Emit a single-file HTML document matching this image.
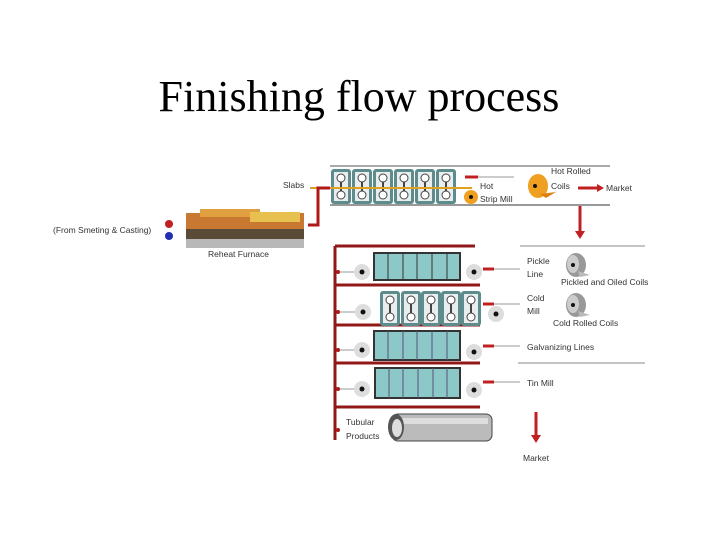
<!DOCTYPE html>
<html><head><meta charset="utf-8"><style>
body{margin:0;background:#fff;width:720px;height:540px;overflow:hidden}
svg text{font-family:"Liberation Sans",sans-serif;font-size:8.5px;fill:#333}
</style></head><body>
<svg width="720" height="540" viewBox="0 0 720 540" xmlns="http://www.w3.org/2000/svg">
<text x="359" y="111" text-anchor="middle" style="font-family:'Liberation Serif',serif;font-size:44px;fill:#000">Finishing flow process</text>
<defs>
<g id="stand"><rect x="0" y="0" width="20" height="35" rx="3" fill="#5e8c8c"/><rect x="3" y="3" width="14" height="29" fill="#e8eeee"/><circle cx="10" cy="9" r="4" fill="#fff" stroke="#444"/><circle cx="10" cy="26" r="4" fill="#fff" stroke="#444"/><line x1="10" y1="13" x2="10" y2="22" stroke="#444" stroke-width="2"/></g>
<g id="roll"><circle r="8" fill="#ddd"/><circle r="2.5" fill="#111"/></g>
<g id="coil"><ellipse cx="0" cy="0" rx="10" ry="12" fill="#999"/><ellipse cx="-3" cy="-1" rx="6" ry="9" fill="#ccc"/><circle cx="-3" cy="0" r="2" fill="#111"/><path d="M2 6 L14 10 L4 12Z" fill="#bbb"/></g>
</defs>
<line x1="330" y1="166" x2="610" y2="166" stroke="#aaa" stroke-width="2"/>
<line x1="330" y1="205" x2="610" y2="205" stroke="#999" stroke-width="2"/>
<use href="#stand" x="331" y="169"/><use href="#stand" x="352" y="169"/><use href="#stand" x="373" y="169"/><use href="#stand" x="394" y="169"/><use href="#stand" x="415" y="169"/><use href="#stand" x="436" y="169"/>
<line x1="310" y1="188" x2="472" y2="188" stroke="#e0a020" stroke-width="2"/>
<polyline points="308,225 318,225 318,188 330,188" fill="none" stroke="#b01818" stroke-width="3"/>
<circle cx="471" cy="197" r="7" fill="#f0a020"/><circle cx="471" cy="197" r="2" fill="#111"/>
<line x1="465" y1="177" x2="478" y2="177" stroke="#c02020" stroke-width="3"/>
<line x1="478" y1="177" x2="514" y2="177" stroke="#ccc" stroke-width="2"/>
<text x="480" y="189">Hot</text><text x="480" y="202">Strip Mill</text>
<ellipse cx="538" cy="186" rx="10" ry="12" fill="#f0a020"/><circle cx="535" cy="186" r="2" fill="#111"/><path d="M540 194 L556 192 L546 198Z" fill="#e08010"/>
<text x="551" y="174">Hot Rolled</text><text x="551" y="189">Coils</text>
<line x1="578" y1="188" x2="598" y2="188" stroke="#c02020" stroke-width="3"/><path d="M597 184 L604 188 L597 192Z" fill="#c02020"/>
<text x="606" y="191">Market</text>
<line x1="580" y1="206" x2="580" y2="232" stroke="#c02020" stroke-width="3"/><path d="M575 231 L580 239 L585 231Z" fill="#c02020"/>
<text x="283" y="188">Slabs</text>
<rect x="186" y="213" width="118" height="16" fill="#c87830"/><rect x="200" y="209" width="60" height="8" fill="#e0a040"/><rect x="250" y="212" width="50" height="10" fill="#e8c050"/>
<rect x="186" y="229" width="118" height="10" fill="#5a4a38"/><rect x="186" y="239" width="118" height="9" fill="#b8b8b8"/>
<circle cx="169" cy="224" r="4" fill="#c02020"/><circle cx="169" cy="236" r="4" fill="#2030b0"/>
<text x="53" y="233">(From Smeting &amp; Casting)</text>
<text x="208" y="257">Reheat Furnace</text>
<line x1="335" y1="246" x2="335" y2="440" stroke="#901818" stroke-width="3"/>
<g stroke="#901818" stroke-width="3"><line x1="335" y1="246" x2="475" y2="246"/><line x1="335" y1="285" x2="480" y2="285"/><line x1="335" y1="325" x2="480" y2="325"/><line x1="335" y1="363" x2="480" y2="363"/><line x1="335" y1="407" x2="480" y2="407"/></g>
<line x1="520" y1="246" x2="645" y2="246" stroke="#888"/>
<line x1="518" y1="363" x2="645" y2="363" stroke="#888"/>
<rect x="374" y="253" width="86" height="27" fill="#8cc8c8" stroke="#333" stroke-width="2"/>
<g stroke="#333"><line x1="388" y1="253" x2="388" y2="280"/><line x1="403" y1="253" x2="403" y2="280"/><line x1="417" y1="253" x2="417" y2="280"/><line x1="432" y1="253" x2="432" y2="280"/><line x1="447" y1="253" x2="447" y2="280"/></g>
<use href="#stand" x="380" y="291"/><use href="#stand" x="401" y="291"/><use href="#stand" x="421" y="291"/><use href="#stand" x="441" y="291"/><use href="#stand" x="461" y="291"/>
<rect x="374" y="331" width="86" height="29" fill="#8cc8c8" stroke="#333" stroke-width="2"/>
<rect x="375" y="368" width="85" height="30" fill="#8cc8c8" stroke="#333" stroke-width="2"/>
<g stroke="#557"><line x1="388" y1="331" x2="388" y2="360"/><line x1="403" y1="331" x2="403" y2="360"/><line x1="417" y1="331" x2="417" y2="360"/><line x1="432" y1="331" x2="432" y2="360"/><line x1="447" y1="331" x2="447" y2="360"/>
<line x1="389" y1="368" x2="389" y2="398"/><line x1="403" y1="368" x2="403" y2="398"/><line x1="418" y1="368" x2="418" y2="398"/><line x1="433" y1="368" x2="433" y2="398"/><line x1="447" y1="368" x2="447" y2="398"/></g>
<g stroke="#ccc" stroke-width="2"><line x1="340" y1="272" x2="355" y2="272"/><line x1="340" y1="312" x2="355" y2="312"/><line x1="340" y1="350" x2="355" y2="350"/><line x1="340" y1="389" x2="355" y2="389"/>
<line x1="492" y1="269" x2="520" y2="269"/><line x1="492" y1="304" x2="520" y2="304"/><line x1="492" y1="346" x2="520" y2="346"/><line x1="492" y1="382" x2="520" y2="382"/></g>
<g fill="#b01818"><circle cx="338" cy="272" r="2"/><circle cx="338" cy="312" r="2"/><circle cx="338" cy="350" r="2"/><circle cx="338" cy="389" r="2"/><circle cx="338" cy="430" r="2"/></g>
<g stroke="#c02020" stroke-width="3"><line x1="483" y1="269" x2="494" y2="269"/><line x1="483" y1="304" x2="494" y2="304"/><line x1="483" y1="346" x2="494" y2="346"/><line x1="483" y1="382" x2="494" y2="382"/></g>
<use href="#roll" x="362" y="272"/><use href="#roll" x="474" y="272"/><use href="#roll" x="363" y="312"/><use href="#roll" x="496" y="314"/>
<use href="#roll" x="362" y="350"/><use href="#roll" x="474" y="352"/><use href="#roll" x="362" y="389"/><use href="#roll" x="474" y="390"/>
<use href="#coil" x="576" y="265"/><use href="#coil" x="576" y="305"/>
<text x="527" y="264">Pickle</text><text x="527" y="277">Line</text><text x="561" y="285">Pickled and Oiled Coils</text>
<text x="527" y="301">Cold</text><text x="527" y="314">Mill</text><text x="553" y="326">Cold Rolled Coils</text>
<text x="527" y="350">Galvanizing Lines</text><text x="527" y="386">Tin Mill</text>
<rect x="392" y="414" width="100" height="27" rx="6" fill="#bbb" stroke="#444"/><rect x="396" y="418" width="92" height="6" fill="#ddd"/>
<ellipse cx="396" cy="427" rx="8" ry="13" fill="#555"/><ellipse cx="397" cy="428" rx="5" ry="9" fill="#ddd"/>
<text x="346" y="425">Tubular</text><text x="346" y="439">Products</text>
<line x1="536" y1="412" x2="536" y2="436" stroke="#c02020" stroke-width="3"/><path d="M531 435 L536 443 L541 435Z" fill="#c02020"/>
<text x="523" y="461">Market</text>
</svg>
</body></html>
